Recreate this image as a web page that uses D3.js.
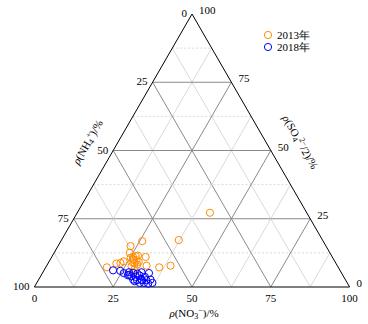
<!DOCTYPE html>
<html><head><meta charset="utf-8">
<script src="https://cdn.jsdelivr.net/npm/d3@7"></script>
<style>
body{margin:0;background:#fff;}
svg{display:block;font-family:"Liberation Serif","Times New Roman",serif;}
</style></head>
<body><svg id="c" width="368" height="324"></svg>
<script>
// ---- data (percent) ----
const series = ["2013年", "2018年"];
const nh4_2013 = [30.7,45.6,57.4,62.0,63.5,63.2,62.2,61.4,59.2,63.5,62.7,64.3,63.9,63.3,67.0,68.3,69.7,73.4,65.4,64.9,60.5,56.8,52.9,66.0,64.1,62.3];
const no3_2013 = [42.1,37.2,25.8,23.0,24.0,25.8,26.5,27.1,29.8,26.5,27.5,26.6,27.5,28.5,23.6,22.9,21.7,19.4,27.0,28.5,31.7,36.0,39.3,28.6,25.2,28.5];
const so4_2013 = [27.2,17.2,16.8,15.0,12.5,11.0,11.3,11.5,11.0,10.0,9.8,9.1,8.6,8.2,9.4,8.8,8.6,7.2,7.6,6.6,7.8,7.2,7.8,5.4,10.7,9.2];
const nh4_2018 = [72.0,69.8,69.1,67.3,66.1,64.9,63.3,61.1,67.3,66.0,64.5,63.1,67.3,66.2,64.7,63.2,61.8,65.8,64.5,63.3,61.8,67.7,67.1,68.2,64.6];
const no3_2018 = [21.9,24.3,25.8,27.3,28.8,30.2,31.3,33.8,28.8,30.3,31.3,33.2,30.0,31.3,32.6,34.3,35.5,32.7,34.0,35.5,36.7,27.8,30.8,27.5,32.9];
const so4_2018 = [6.1,5.9,5.1,5.4,5.1,4.9,5.4,5.1,3.9,3.7,4.2,3.7,2.7,2.5,2.7,2.5,2.7,1.5,1.5,1.2,1.5,4.5,2.1,4.3,2.5];
const tickValues = [0, 25, 50, 75, 100];
const gridValues = [12.5, 25, 37.5, 50, 62.5, 75, 87.5];

// ---- geometry ----
const yTop = 14, yBot = 287;
const H = yBot - yTop;
const half = H / Math.sqrt(3);
const cx = 192;
const xLeft = cx - half, xRight = cx + half;
const xs = d3.scaleLinear().domain([0, 100]).range([xLeft, xRight]);
const ys = d3.scaleLinear().domain([0, 100]).range([yBot, yTop]);
function P(nh4, no3, so4) {
  const s = nh4 + no3 + so4;
  const a = no3 / s * 100, c = so4 / s * 100;
  return [xs(a + c / 2), ys(c)];
}

const svg = d3.select("#c");
const colors = ["#ff8c00", "#0000ff"];

// ---- grid ----
const g = svg.append("g");
gridValues.forEach(v => {
  const major = v % 25 === 0;
  const segs = [
    [P(100 - v, 0, v), P(0, 100 - v, v), true],
    [P(100 - v, v, 0), P(0, v, 100 - v), false],
    [P(v, 100 - v, 0), P(v, 0, 100 - v), false]
  ];
  segs.forEach(([a, b, horiz]) => {
    g.append("line").attr("x1", a[0]).attr("y1", a[1]).attr("x2", b[0]).attr("y2", b[1])
      .attr("stroke", major ? "#8a8a8a" : "#cfcfcf")
      .attr("stroke-width", major ? 1 : 0.8)
      .attr("stroke-dasharray", (!major && horiz) ? "2,2" : null);
  });
});

// ---- triangle ----
const A = P(0, 0, 100), B = P(100, 0, 0), C = P(0, 100, 0);
svg.append("path").attr("d", `M${A}L${B}L${C}Z`).attr("fill", "none")
  .attr("stroke", "#000").attr("stroke-width", 1);

// ---- tick labels ----
const tl = svg.append("g").attr("font-size", 11).attr("fill", "#000");
tickValues.forEach(v => {
  const pb = P(100 - v, v, 0);
  tl.append("text").attr("x", pb[0]).attr("y", pb[1] + 15).attr("text-anchor", "middle").text(v);
  const pl = P(v, 0, 100 - v);
  tl.append("text").attr("x", pl[0] - 5).attr("y", pl[1] + 3).attr("text-anchor", "end").text(v);
  const pr = P(0, 100 - v, v);
  tl.append("text").attr("x", pr[0] + 7).attr("y", pr[1]).attr("text-anchor", "start").text(v);
});

// ---- axis titles ----
function title(x, y, rot, parts) {
  const t = svg.append("text").attr("font-size", 11)
    .attr("transform", `translate(${x},${y}) rotate(${rot})`).attr("text-anchor", "middle");
  parts.forEach(p => {
    const s = t.append("tspan").text(p.t);
    if (p.i) s.attr("font-style", "italic");
    if (p.sub) s.attr("baseline-shift", "-25%").attr("font-size", 8);
    if (p.sup) s.attr("baseline-shift", "45%").attr("font-size", 8);
  });
}
title(194, 317, 0, [{t:"ρ", i:1},{t:"(NO"},{t:"3", sub:1},{t:"−", sup:1},{t:")/%"}]);
title(91, 144, -60, [{t:"ρ", i:1},{t:"(NH"},{t:"4", sub:1},{t:"+", sup:1},{t:")/%"}]);
title(297, 144, 60, [{t:"ρ", i:1},{t:"(SO"},{t:"4", sub:1},{t:"2−", sup:1},{t:"/2)/%"}]);

// ---- points ----
const sets = [[nh4_2013, no3_2013, so4_2013], [nh4_2018, no3_2018, so4_2018]];
sets.forEach(([a, b, c], k) => {
  const pts = a.map((d, i) => P(d, b[i], c[i]));
  svg.append("g").selectAll("circle").data(pts).join("circle")
    .attr("cx", d => d[0]).attr("cy", d => d[1]).attr("r", 3.6)
    .attr("fill", "none").attr("stroke", colors[k]).attr("stroke-width", 1);
});

// ---- legend ----
const lg = svg.append("g").attr("font-size", 11);
series.forEach((s, k) => {
  const y = 35 + k * 12;
  lg.append("circle").attr("cx", 268).attr("cy", y).attr("r", 3.6)
    .attr("fill", "none").attr("stroke", colors[k]).attr("stroke-width", 1);
  lg.append("text").attr("x", 277).attr("y", y + 4).text(s);
});
</script></body></html>
